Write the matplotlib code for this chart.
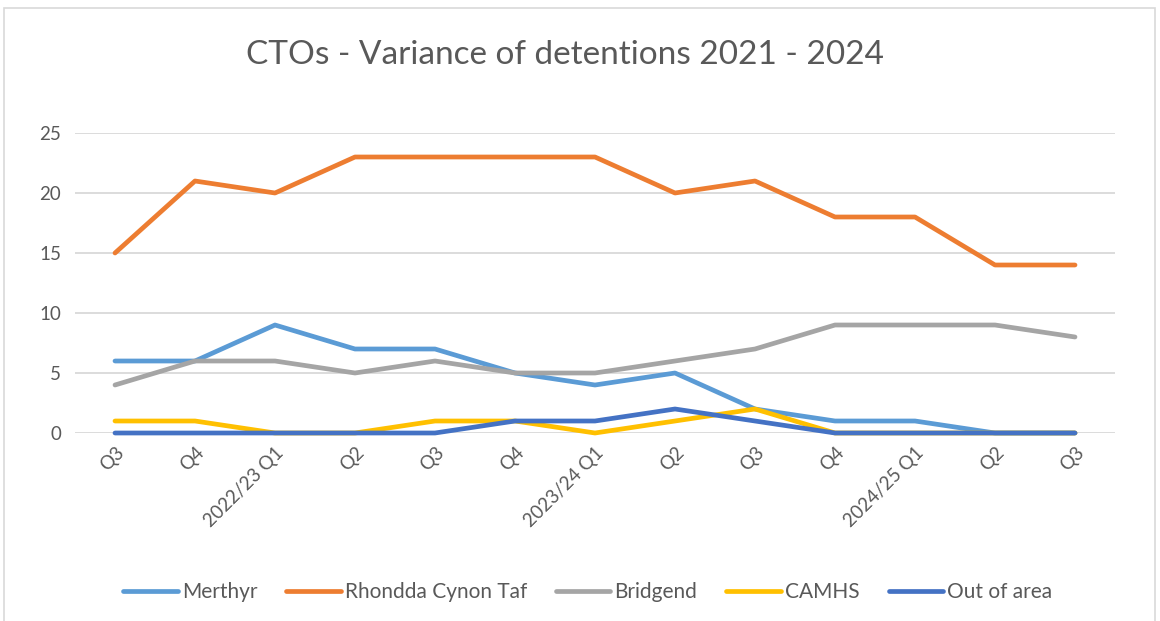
import matplotlib
matplotlib.use('Agg')
import matplotlib.pyplot as plt
from matplotlib.patches import Rectangle

plt.rcParams['font.family'] = ['Lato', 'DejaVu Sans']

quarters = ['Q3', 'Q4', '2022/23 Q1', 'Q2', 'Q3', 'Q4', '2023/24 Q1',
            'Q2', 'Q3', 'Q4', '2024/25 Q1', 'Q2', 'Q3']
merthyr = [6, 6, 9, 7, 7, 5, 4, 5, 2, 1, 1, 0, 0]
rhondda = [15, 21, 20, 23, 23, 23, 23, 20, 21, 18, 18, 14, 14]
bridgend = [4, 6, 6, 5, 6, 5, 5, 6, 7, 9, 9, 9, 8]
camhs = [1, 1, 0, 0, 1, 1, 0, 1, 2, 0, 0, 0, 0]
out_of_area = [0, 0, 0, 0, 0, 1, 1, 2, 1, 0, 0, 0, 0]

series = [('Merthyr', merthyr, '#5B9BD5'),
          ('Rhondda Cynon Taf', rhondda, '#ED7D31'),
          ('Bridgend', bridgend, '#A5A5A5'),
          ('CAMHS', camhs, '#FFC000'),
          ('Out of area', out_of_area, '#4472C4')]

fig = plt.figure(figsize=(11.6, 6.21), dpi=100)
ax = fig.add_axes([75/1160, 188/621, 1040/1160, 300/621])

x = range(len(quarters))
for name, vals, col in series:
    ax.plot(x, vals, color=col, lw=3.4, label=name, solid_capstyle='round',
            solid_joinstyle='round', clip_on=False)

ax.set_xlim(-0.5, len(quarters) - 0.5)
ax.set_ylim(0, 25)
ax.set_yticks([0, 5, 10, 15, 20, 25])
ax.yaxis.grid(True, color='#D9D9D9', lw=1.3)
ax.set_axisbelow(True)
for s in ax.spines.values():
    s.set_visible(False)
ax.tick_params(length=0, labelsize=13.5, colors='#595959', pad=10)
ax.set_xticks(list(x))
ax.set_xticklabels(quarters, rotation=45, ha='right', rotation_mode='anchor')
ax.tick_params(axis='x', pad=8)

fig.text(0.487, 0.911, 'CTOs - Variance of detentions 2021 - 2024',
         ha='center', va='center', fontsize=24, color='#595959')

leg = ax.legend(loc='center', bbox_to_anchor=(0.493, -0.53), ncol=5,
                frameon=False, fontsize=15, handlelength=2.6,
                columnspacing=1.4, handletextpad=0.2)
for t in leg.get_texts():
    t.set_color('#595959')

fig.patches.append(Rectangle((4/1160, -0.05), 1151/1160, 1.05 - 8/621,
                             transform=fig.transFigure, fill=False,
                             edgecolor='#D9D9D9', lw=1.2))

fig.savefig('out.png', dpi=100)
